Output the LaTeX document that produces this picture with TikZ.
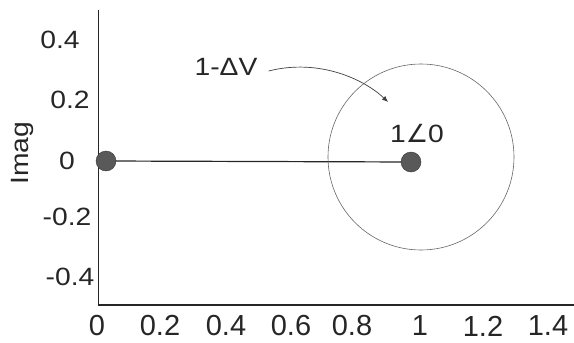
\documentclass[tikz,border=0pt]{standalone}
\usepackage{fontspec}
\setmainfont{Liberation Sans}[FakeStretch=1.13]
\newfontfamily\xtickfont{Liberation Sans}
\newfontfamily\angfont{DejaVu Sans}
\usetikzlibrary{arrows.meta}

\begin{document}
\begin{tikzpicture}[x=1pt, y=-1pt,
  lbl/.style={font=\fontsize{25}{28}\selectfont, text=black!85, inner sep=0pt},
  xlbl/.style={font=\xtickfont\fontsize{29}{32}\selectfont, text=black!85, inner sep=0pt},
  dot/.style={circle, fill=black!65, draw=black!80, minimum size=20pt, inner sep=0pt},
  axis/.style={line width=1.3pt, draw=black!85},
  arr/.style={-{Latex[length=6pt,width=5pt]}, draw=black!75, line width=0.7pt}]
\useasboundingbox (0,0) rectangle (574,343);
\draw[axis] (98.5,10) -- (98.5,305) -- (574,305);
% tick labels
\foreach \x/\t in {97/0, 160/0.2, 226/0.4, 291/0.6, 352/0.8, 420/1, 483/1.2, 548/1.4}
  \node[xlbl] at (\x,326) {\t};
\foreach \x/\y/\t in {60/40/0.4, 70/100/0.2, 67/161/0, 67/217/-0.2, 70/277/-0.4}
  \node[lbl] at (\x,\y) {\t};
\node[lbl, rotate=90] (im) at (22,153) {Imag};
% phasors
\node[dot] (o) at (106,161) {};
\node[dot] (u) at (411,162) {};
\draw[line width=1.2pt, black!85] (o) -- (u);
\draw[black!60, line width=0.6pt] (421,157) circle[radius=93pt];
\node[lbl] (ang) at (417,134) {1{\angfont∠}0};
\node[lbl] (dv) at (226,67) {1-ΔV};
\coordinate (tip) at (388,102);
\draw[arr] ([xshift=11pt,yshift=-4pt]dv.east) .. controls (320,58) and (365,80) .. (tip);
\end{tikzpicture}
\end{document}
